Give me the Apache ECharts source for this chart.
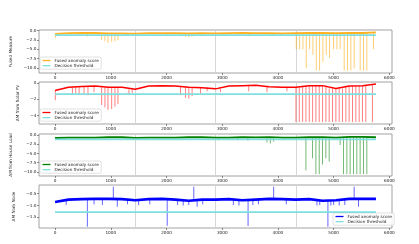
<!DOCTYPE html>
<html><head><meta charset="utf-8">
<script src="https://cdn.jsdelivr.net/npm/echarts@6/dist/echarts.min.js"></script>
<style>html,body{margin:0;padding:0;background:#fff}#c{width:419px;height:244px}</style>
</head><body><div id="c"></div>
<script>
// ---------- data ----------
const xTicks = [0, 1000, 2000, 3000, 4000, 5000, 6000];
const dayBreaks = [1440, 2880, 4320];
const baseX = [0,240,480,720,960,1200,1440,1680,1920,2160,2400,2640,2880,3120,3360,3600,3840,4080,4320,4560,4800,5040,5280,5520,5759];

// Panel 1: Fused Measure
const fusedBase = [-0.9,-0.7,-0.65,-0.65,-0.75,-0.75,-0.8,-0.7,-0.7,-0.7,-0.75,-0.7,-0.75,-0.7,-0.65,-0.7,-0.7,-0.75,-0.7,-0.65,-0.65,-0.7,-0.65,-0.65,-0.5];
const fusedThreshold = -1.2;
const fusedSpikes = [[5,-2.0],[580,-1.6],[836,-2.5],[896,-2.9],[950,-3.3],[1016,-3.1],[1075,-2.9],[1129,-2.6],[1297,-1.4],
  [2013,-1.5],[2251,-1.5],[2341,-1.7],[2401,-1.8],[2460,-1.6],[2610,-1.4],[2968,-1.4],[3028,-1.3],[3475,-1.5],[3804,-1.4],[3864,-1.5],[3912,-1.5],[4043,-1.3],
  [4329,-5.0],[4389,-5.0],[4449,-5.0],[4508,-10.1],[4568,-5.0],[4628,-6.5],[4688,-10.7],[4747,-10.7],[4807,-8.3],[4867,-6.5],[4926,-7.4],
  [4998,-5.0],[5058,-5.0],[5117,-5.0],[5189,-10.7],[5249,-10.7],[5309,-10.7],[5368,-10.1],[5476,-10.7],[5536,-10.7],[5596,-10.7],[5714,-5.0]];

// Panel 2: AM from Solar PV
const pvBase = [-0.9,-0.5,-0.4,-0.35,-0.5,-0.5,-0.75,-0.35,-0.3,-0.35,-0.5,-0.55,-0.7,-0.35,-0.3,-0.25,-0.45,-0.5,-0.5,-0.3,-0.3,-0.65,-0.35,-0.3,-0.1];
const pvThreshold = -1.35;
const pvSpikes = [[5,-2.1],[312,-1.3],[371,-1.2],[431,-1.4],[520,-1.3],[591,-1.5],[699,-1.1],
  [836,-2.7],[896,-3.0],[950,-3.3],[1016,-3.2],[1075,-2.9],[1129,-2.6],[1326,-1.4],[1386,-1.2],
  [2251,-1.5],[2341,-1.8],[2401,-1.9],[2460,-1.6],[2610,-1.3],[2730,-1.0],[2968,-1.1],[3475,-1.0],[3804,-1.1],[4162,-1.0],
  [4323,-4.8],[4383,-4.8],[4443,-4.8],[4502,-4.8],[4562,-4.8],[4622,-4.8],[4681,-4.8],[4741,-4.8],[4801,-4.8],[4861,-4.8],[4920,-4.8],[4980,-4.8],
  [5040,-4.8],[5099,-4.8],[5159,-4.8],[5219,-4.8],[5278,-4.8],[5338,-4.8],[5398,-4.8],[5458,-4.8],[5517,-4.8],[5577,-4.8],[5696,-4.8]];

// Panel 3: AM from House Load
const loadBase = [-0.8,-0.7,-0.7,-0.7,-0.6,-0.6,-0.75,-0.7,-0.7,-0.7,-0.6,-0.6,-0.7,-0.7,-0.6,-0.65,-0.55,-0.7,-0.7,-0.6,-0.55,-0.7,-0.5,-0.5,-0.6];
const loadThreshold = -1.2;
const loadSpikes = [[2938,-1.4],[3281,-1.4],[3460,-1.5],[3804,-2.0],[3864,-2.3],[3923,-1.8],
  [4502,-9.6],[4621,-6.3],[4681,-10.6],[4741,-10.6],[4800,-8.0],[4860,-6.3],[4920,-7.2],[5117,-2.7],
  [5177,-10.6],[5237,-10.6],[5296,-10.6],[5356,-10.6],[5416,-10.6],[5475,-10.6],[5535,-10.6],[5595,-10.6]];

// Panel 4: AM from Node
const nodeBase = [-0.85,-0.75,-0.73,-0.72,-0.72,-0.73,-0.78,-0.73,-0.72,-0.75,-0.8,-0.75,-0.75,-0.73,-0.78,-0.75,-0.72,-0.73,-0.75,-0.73,-0.8,-0.78,-0.72,-0.72,-0.72];
const nodeThreshold = -1.28;
const nodeSpikes = [[200,-0.98],[580,-1.9],[700,-0.95],[850,-0.98],[1046,-0.2],[1117,-1.05],[1300,-0.95],[1500,-0.98],[1700,-0.95],
  [2013,-1.86],[2200,-0.98],[2300,-1.0],[2400,-0.98],[2490,-0.2],[2550,-1.05],[2650,-0.95],[3200,-0.98],[3300,-1.0],[3464,-1.87],
  [3550,-0.98],[3650,-0.95],[3923,-0.2],[4150,-0.95],[4700,-1.0],[4750,-0.98],[4897,-1.9],[4950,-1.0],[5000,-0.98],[5100,-1.0],
  [5200,-0.98],[5368,-0.2],[5446,-1.05]];

const yNames = ['Fused Measure', 'AM from Solar PV', 'AM from House Load', 'AM from Node'];
const yTicks = [[0,-2.5,-5,-7.5,-10],[0,-2,-4],[0,-2.5,-5,-7.5,-10],[-0.5,-1.0,-1.5]];
const yDecimals = [1,0,1,1];
const yRanges = [[-11.35,0.15],[-5.05,0.15],[-11.1,0.28],[-1.955,-0.13]];
const scoreName = 'Fused anomaly score';
const thrName = 'Decision threshold';

// ---------- layout ----------
const panels = [
  {base: fusedBase, thr: fusedThreshold, spikes: fusedSpikes, color: 'rgba(255,165,0,0.85)', spikeColor: 'rgba(255,165,0,0.55)', lw: 1.8},
  {base: pvBase, thr: pvThreshold, spikes: pvSpikes, color: '#ff0000', spikeColor: 'rgba(255,0,0,0.5)', lw: 1.5},
  {base: loadBase, thr: loadThreshold, spikes: loadSpikes, color: '#008000', spikeColor: 'rgba(0,128,0,0.55)', lw: 1.8},
  {base: nodeBase, thr: nodeThreshold, spikes: nodeSpikes, color: '#0000ff', spikeColor: 'rgba(0,0,255,0.6)', lw: 2.6}
];
const gridPos = [[30,43],[82,42],[134,42],[185,43]];
const nameGaps = [17,19,21,19];
const legendPos = [{left:40, top:57}, {left:40, top:109}, {left:40, top:161}, {left:333, top:213}];
const FONT = 'DejaVu Sans';
const fs = 4.2;
const cyan = '#7fdfdf';

const grid = [], xAxis = [], yAxis = [], series = [], legend = [];
const fmt = (v, d) => (v < 0 ? '\u2212' : '') + Math.abs(v).toFixed(d);

panels.forEach((p, i) => {
  grid.push({left: 39, width: 353, top: gridPos[i][0], height: gridPos[i][1], show: true, borderColor: '#8a8a8a', borderWidth: 0.8});
  xAxis.push({
    type: 'value', gridIndex: i, min: -288, max: 6047,
    axisLine: {show: false, onZero: false}, splitLine: {show: false},
    axisTick: {show: true, length: 2, customValues: xTicks, lineStyle: {color: '#444', width: 0.6}},
    axisLabel: {customValues: xTicks, fontSize: fs, color: '#222', fontFamily: FONT, margin: 2.5,
      formatter: v => String(Math.round(v))}
  });
  yAxis.push({
    type: 'value', gridIndex: i, min: yRanges[i][0], max: yRanges[i][1],
    name: yNames[i], nameLocation: 'middle', nameRotate: 90, nameGap: nameGaps[i],
    nameTextStyle: {fontSize: fs, color: '#222', fontFamily: FONT},
    axisLine: {show: false, onZero: false}, splitLine: {show: false},
    axisTick: {show: true, length: 2, customValues: yTicks[i], lineStyle: {color: '#444', width: 0.6}},
    axisLabel: {customValues: yTicks[i], fontSize: fs, color: '#222', fontFamily: FONT, margin: 2.5,
      formatter: v => fmt(v, yDecimals[i])}
  });
  const baseData = baseX.map((x, k) => [x, p.base[k]]);
  const spikeData = [];
  p.spikes.forEach(([x, v]) => {
    const b = p.base[Math.min(p.base.length - 1, Math.round(x / 240))];
    spikeData.push([x, b], [x, v], [x, '-']);
  });
  series.push({
    name: scoreName + '#' + i, type: 'line', xAxisIndex: i, yAxisIndex: i, data: baseData,
    showSymbol: false, symbol: 'none', color: p.color, lineStyle: {width: p.lw, color: p.color}, z: 3
  });
  series.push({
    type: 'line', xAxisIndex: i, yAxisIndex: i, data: spikeData, connectNulls: false,
    showSymbol: false, symbol: 'none', lineStyle: {width: 1, color: p.spikeColor}, z: 3
  });
  series.push({
    name: thrName + '#' + i, type: 'line', xAxisIndex: i, yAxisIndex: i, data: [[0, p.thr], [5759, p.thr]],
    showSymbol: false, symbol: 'none', color: cyan, lineStyle: {width: 1.8, color: cyan}, z: 4,
    markLine: {silent: true, symbol: 'none', label: {show: false}, animation: false, z: 1,
      lineStyle: {color: '#d6d6d6', width: 1, type: 'solid'},
      data: dayBreaks.map(x => ({xAxis: x}))}
  });
  legend.push(Object.assign({
    orient: 'vertical', data: [scoreName + '#' + i, thrName + '#' + i],
    formatter: n => n.split('#')[0], icon: 'rect', itemWidth: 8, itemHeight: 1.3, itemGap: 1.2,
    textStyle: {fontSize: fs, color: '#222', fontFamily: FONT, padding: [0, 0, 0, -1]},
    backgroundColor: 'rgba(255,255,255,0.85)', borderColor: '#cccccc', borderWidth: 0.6, borderRadius: 1.5,
    padding: [1.5, 2.5, 1.5, 2.5], selectedMode: false
  }, legendPos[i]));
});

const chart = echarts.init(document.getElementById('c'), null, {renderer: 'canvas'});
chart.setOption({animation: false, backgroundColor: '#fff', grid, xAxis, yAxis, series, legend});
</script></body></html>
